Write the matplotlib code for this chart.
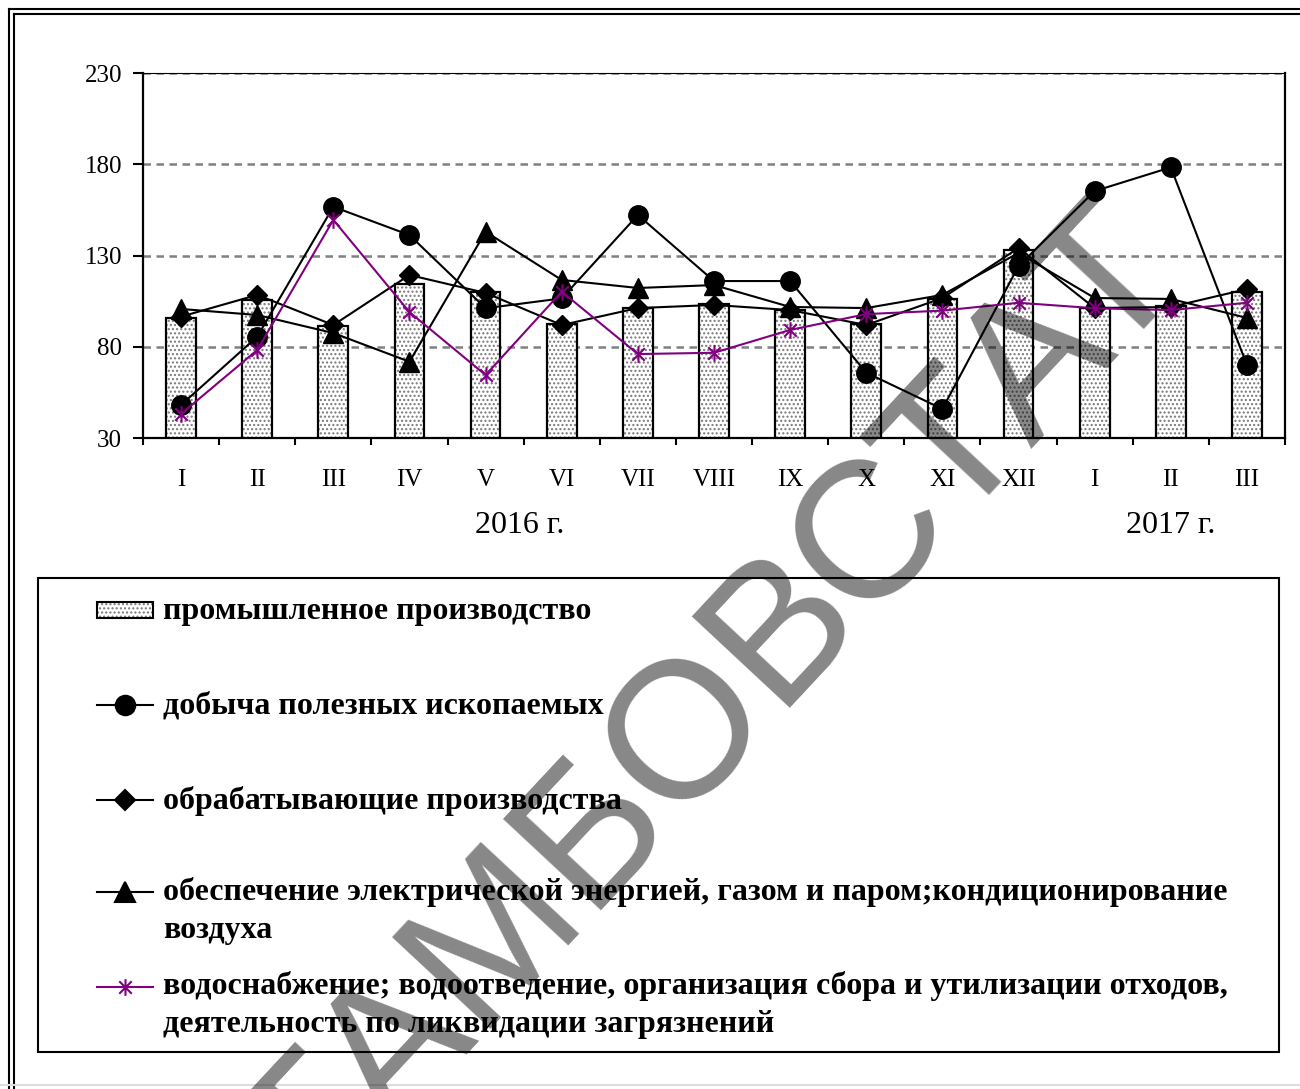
import matplotlib
matplotlib.use('Agg')
import matplotlib.pyplot as plt
from matplotlib.patches import Rectangle
from matplotlib.lines import Line2D
from matplotlib.path import Path
import matplotlib.transforms as mtransforms
import numpy as np

# месяцы 2016-2017
months = ['I', 'II', 'III', 'IV', 'V', 'VI', 'VII', 'VIII', 'IX', 'X', 'XI', 'XII', 'I', 'II', 'III']
years = ['2016 г.', '2017 г.']
year_pos = [4.45, 13.0]

industry = [95.6, 105.6, 91.5, 114.4, 110.2, 92.3, 101.1, 103.3, 100.1, 92.3, 106.0, 133.0, 101.1, 102.5, 110.2]
mining = [48.1, 85.5, 156.7, 141.2, 101.1, 106.5, 152.2, 116.0, 116.0, 65.8, 45.9, 124.2, 165.3, 178.3, 70.0]
manufacturing = [96.5, 108.4, 91.9, 119.3, 109.5, 91.9, 101.2, 102.9, 100.1, 91.9, 106.7, 134.1, 101.2, 101.8, 111.6]
energy = [100.7, 97.4, 87.5, 71.8, 143.0, 116.6, 112.2, 113.8, 101.8, 101.2, 108.4, 131.4, 106.7, 106.2, 95.8]
water = [43.2, 78.2, 149.5, 99.0, 64.5, 110.2, 76.0, 76.7, 89.2, 97.9, 99.8, 104.1, 101.1, 100.1, 104.1]

labels = ['промышленное производство',
          'добыча полезных ископаемых',
          'обрабатывающие производства',
          'обеспечение электрической энергией, газом и паром;кондиционирование\nвоздуха',
          'водоснабжение; водоотведение, организация сбора и утилизации отходов,\nдеятельность по ликвидации загрязнений']

plt.rcParams['font.family'] = ['Liberation Serif', 'DejaVu Serif']

W, H = 1300, 1089
fig = plt.figure(figsize=(W / 100, H / 100), dpi=100)


def fx(px):
    return px / W


def fy(py):
    return 1 - py / H


# маркер "звездочка" как в Excel: крест + вертикальная черта
star = Path([(0, -1), (0, 1), (-0.75, -0.75), (0.75, 0.75), (-0.75, 0.75), (0.75, -0.75)],
            [Path.MOVETO, Path.LINETO] * 3)

ax = fig.add_axes([fx(143), fy(438), fx(1285) - fx(143), fy(73) - fy(438)])
x = np.arange(len(months))

ax.bar(x, industry, 0.39, color='white', edgecolor='#777777', hatch='....', linewidth=0, zorder=2)
ax.bar(x, industry, 0.39, fill=False, edgecolor='black', linewidth=1.6, zorder=3)

ax.plot(x, mining, color='black', lw=1.5, marker='o', ms=14, zorder=4)
ax.plot(x, manufacturing, color='black', lw=1.5, marker='D', ms=10.5, zorder=5)
ax.plot(x, energy, color='black', lw=1.5, marker='^', ms=14, zorder=6)
ax.plot(x, water, color='#800080', lw=1.5, marker=star, ms=12, mew=1.5, mec='#800080', zorder=7)

ax.set_xlim(-0.5, len(months) - 0.5)
ax.set_ylim(30, 230)
ax.set_yticks([30, 80, 130, 180, 230])
ax.yaxis.grid(True, color='#808080', linestyle=(0, (3.0, 2.2)), linewidth=1.8)
ax.set_axisbelow(True)
for s in ['left', 'right', 'bottom']:
    ax.spines[s].set_linewidth(1.6)
ax.spines['top'].set_linewidth(0.8)

ax.tick_params(axis='y', length=7, width=1.5, direction='out', pad=8, labelsize=18)
ax.set_xticks(x)
ax.set_xticklabels(months)
ax.tick_params(axis='x', which='major', length=0, pad=22, labelsize=18)
ax.set_xticks(np.arange(-0.5, len(months), 1), minor=True)
ax.tick_params(axis='x', which='minor', length=5, width=1.5, direction='out')

trans = mtransforms.blended_transform_factory(ax.transData, fig.transFigure)
for yp, yl in zip(year_pos, years):
    ax.text(yp, fy(526), yl, transform=trans, fontsize=23, ha='center', va='center')

# легенда
fig.add_artist(Rectangle((fx(38), fy(1052)), fx(1279) - fx(38), fy(578) - fy(1052),
                         transform=fig.transFigure, fill=False, lw=1.5, ec='black'))
ys = [611, 706, 801, 911, 1005]
fig.add_artist(Rectangle((fx(97), fy(618)), fx(153) - fx(97), fy(602) - fy(618),
                         transform=fig.transFigure, facecolor='white', edgecolor='#777777',
                         hatch='....', lw=0))
fig.add_artist(Rectangle((fx(97), fy(618)), fx(153) - fx(97), fy(602) - fy(618),
                         transform=fig.transFigure, fill=False, edgecolor='black', lw=1.5))
hy = [705, 800, 892, 987]
styles = [('black', 'o', 14), ('black', 'D', 10.5), ('black', '^', 14), ('#800080', star, 12)]
for yy, (c, m, s) in zip(hy, styles):
    fig.add_artist(Line2D([fx(97), fx(153)], [fy(yy), fy(yy)], transform=fig.transFigure,
                          color=c, lw=1.5))
    fig.add_artist(Line2D([fx(125)], [fy(yy)], transform=fig.transFigure, color=c,
                          marker=m, ms=s, mec=c, mew=1.5))
for yy, lab in zip(ys, labels):
    fig.text(fx(163), fy(yy), lab, fontsize=23, fontweight='bold', ha='left', va='center',
             linespacing=1.4)

# рамка
for px in [9, 14]:
    fig.add_artist(Line2D([fx(px), fx(px)], [fy(px), 0], transform=fig.transFigure, color='black', lw=1.5))
    fig.add_artist(Line2D([fx(px), 1], [fy(px), fy(px)], transform=fig.transFigure, color='black', lw=1.5))
fig.add_artist(Line2D([0, 1], [fy(1085), fy(1085)], transform=fig.transFigure, color='#dddddd', lw=1.5))

# водяной знак
fig.text(fx(715), fy(710), 'ТАМБОВСТАТ', fontsize=140, family='Liberation Sans', color='black',
         alpha=0.47, rotation=47, rotation_mode='anchor', ha='center', va='center', zorder=20)

fig.savefig('out.png', dpi=100)
